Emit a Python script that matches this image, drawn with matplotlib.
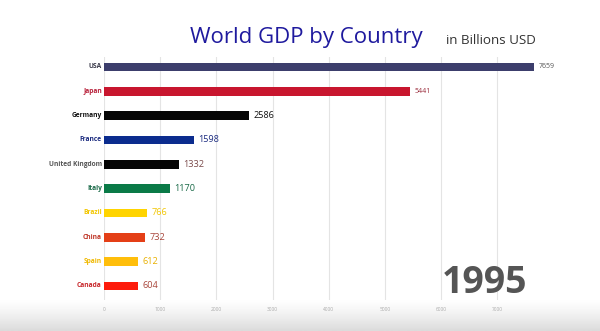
import numpy as np
import matplotlib
matplotlib.use("Agg")
import matplotlib.pyplot as plt

plt.rcParams['font.family'] = ['Open Sans', 'DejaVu Sans']

countries = ["USA", "Japan", "Germany", "France", "United Kingdom",
             "Italy", "Brazil", "China", "Spain", "Canada"]
gdp = [7659, 5441, 2586, 1598, 1332, 1170, 766, 732, 612, 604]
bar_colors = ["#3c3e6c", "#c8162e", "#050505", "#0b2c8e", "#050505",
              "#0a7a47", "#ffd400", "#e43f17", "#ffbe0b", "#fd1b0b"]
name_colors = ["#3a3a4a", "#b8203a", "#111111", "#1c2c80", "#555555",
               "#1a6a48", "#f2c600", "#c0382a", "#f0b800", "#c8282c"]
value_colors = ["#555555", "#9a2a3a", "#111111", "#1c2c80", "#7a4a4a",
                "#1a6a48", "#f2c600", "#a8453a", "#e8b000", "#a8453a"]
year = "1995"
ticks = [0, 1000, 2000, 3000, 4000, 5000, 6000, 7000]

fig = plt.figure(figsize=(6, 3.31), dpi=100)

# grey fade at the bottom
bg = fig.add_axes([0, 0, 1, 1], zorder=-1)
grad = np.linspace(0, 1, 200).reshape(-1, 1)
bg.imshow(1 - 0.14 * np.clip((grad - 0.905) / 0.095, 0, 1) ** 1.3, cmap="gray",
          vmin=0, vmax=1, aspect="auto", extent=[0, 1, 0, 1])
bg.axis("off")

ax = fig.add_axes([104 / 600, 1 - 300 / 331, 476 / 600, 243 / 331])
ax.set_facecolor("none")
y = np.arange(len(countries))
ax.barh(y, gdp, height=0.36, color=bar_colors, zorder=3)
ax.set_xlim(0, 8470)
ax.set_ylim(9.58, -0.41)

for i in range(len(countries)):
    ax.text(-40, i, countries[i], ha="right", va="center", fontsize=4.8,
            fontweight="bold", color=name_colors[i])
    ax.text(gdp[i] + 80, i, str(gdp[i]), ha="left", va="center",
            fontsize=5 if i < 2 else 6.6, color=value_colors[i])

ax.set_xticks(ticks)
ax.set_xticklabels([str(t) for t in ticks], fontsize=3.5, color="#aaaaaa")
ax.set_yticks([])
ax.tick_params(axis="x", length=0, pad=5)
ax.grid(axis="x", color="#e4e4e4", linewidth=0.8, zorder=0)
for s in ax.spines.values():
    s.set_visible(False)

fig.text(306 / 600, 1 - 37 / 331, "World GDP by Country", ha="center",
         va="center", fontsize=16, color="#1f1a9e")
fig.text(446 / 600, 1 - 40 / 331, "in Billions USD", ha="left",
         va="center", fontsize=9.6, color="#333333")
fig.text(485 / 600, 1 - 283 / 331, year, ha="center", va="center",
         fontsize=27, fontweight="bold", color="#555555")

fig.savefig("out.png", dpi=100)
